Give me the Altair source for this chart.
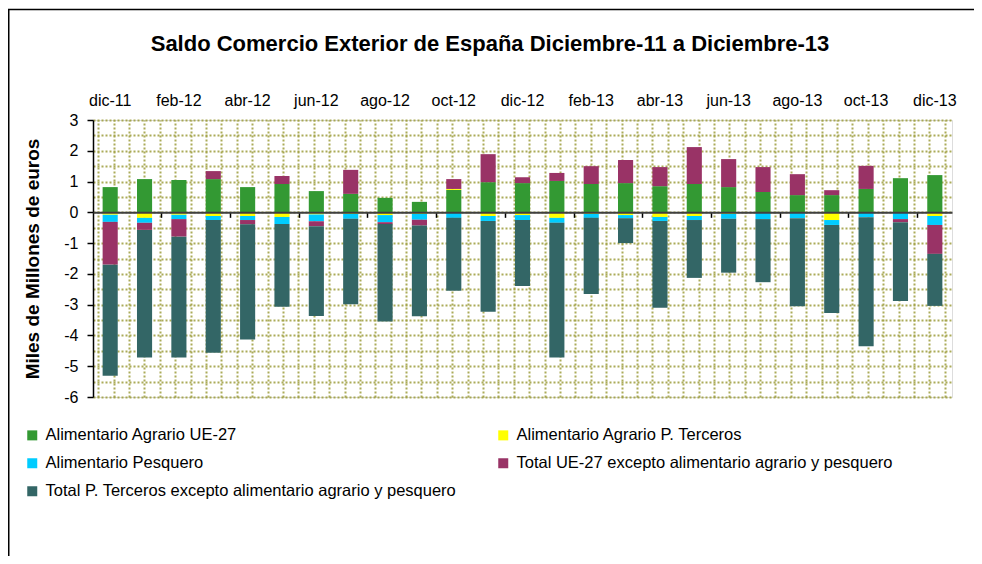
import altair as alt
import pandas as pd

# ---------------- data ----------------
months = ["dic-11", "ene-12", "feb-12", "mar-12", "abr-12", "may-12", "jun-12",
          "jul-12", "ago-12", "sep-12", "oct-12", "nov-12", "dic-12", "ene-13",
          "feb-13", "mar-13", "abr-13", "may-13", "jun-13", "jul-13", "ago-13",
          "sep-13", "oct-13", "nov-13", "dic-13"]

agrario_ue27 = [0.82, 1.08, 1.05, 1.08, 0.82, 0.92, 0.69, 0.60, 0.47, 0.34, 0.73, 0.98,
                0.95, 1.02, 0.92, 0.95, 0.85, 0.92, 0.82, 0.66, 0.56, 0.56, 0.76, 1.11, 1.21]
agrario_terceros = [-0.08, -0.18, -0.08, -0.12, -0.12, -0.15, -0.07, -0.05, -0.09, -0.05, 0.03, -0.12,
                    -0.09, -0.18, -0.05, -0.09, -0.15, -0.12, -0.05, -0.01, -0.01, -0.25, -0.01, -0.01, -0.12]
pesquero = [-0.23, -0.16, -0.14, -0.13, -0.13, -0.23, -0.22, -0.16, -0.23, -0.19, -0.18, -0.16,
            -0.16, -0.16, -0.13, -0.10, -0.13, -0.13, -0.16, -0.21, -0.18, -0.16, -0.15, -0.21, -0.29]
total_ue27 = [-1.39, -0.23, -0.57, 0.26, -0.14, 0.26, -0.16, 0.78, -0.06, -0.19, 0.32, 0.91,
              0.19, 0.26, 0.58, 0.75, 0.62, 1.20, 0.91, 0.81, 0.68, 0.16, 0.75, -0.10, -0.94]
total_terceros = [-3.61, -4.15, -3.93, -4.31, -3.74, -2.69, -2.92, -2.78, -3.17, -2.95, -2.37, -2.95,
                  -2.14, -4.38, -2.47, -0.81, -2.82, -1.88, -1.75, -2.05, -2.86, -2.86, -4.19, -2.56, -1.69]

series_names = ["Alimentario Agrario UE-27",
                "Alimentario Agrario P. Terceros",
                "Alimentario Pesquero",
                "Total UE-27 excepto alimentario agrario y pesquero",
                "Total P. Terceros excepto alimentario agrario y pesquero"]
series_colors = ["#339933", "#FFFF00", "#00CCFF", "#993366", "#336666"]
series_values = [agrario_ue27, agrario_terceros, pesquero, total_ue27, total_terceros]

title_text = "Saldo Comercio Exterior de España Diciembre-11 a Diciembre-13"
top_labels = months[::2]
tick_months = months[2::2]
y_grid_values = [v / 2 for v in range(-12, 7)]

rows = []
for k, (name, vals) in enumerate(zip(series_names, series_values)):
    for m, v in zip(months, vals):
        rows.append({"mes": m, "serie": name, "orden": k, "valor": v})
df = pd.DataFrame(rows)

# legend is filled column by column: reorder so it reads row by row like the original
legend_order = [0, 2, 4, 1, 3]
legend_domain = [series_names[i] for i in legend_order]
legend_range = [series_colors[i] for i in legend_order]

FONT = "Liberation Sans"
W, H = 859, 277
ZERO_OFFSET = -(H - H * 3 / 9)
GRID_COLOR = "#9c9c3c"

# vertical dotted pattern lines of the plot area
grid_v = alt.Chart(pd.DataFrame({"g": [0]})).mark_point(opacity=0).encode(
    x=alt.X("g:Q",
            scale=alt.Scale(domain=[-0.344, 55.47], nice=False, zero=False),
            axis=alt.Axis(values=list(range(56)), grid=True, labels=False, ticks=False,
                          domain=False, title=None, orient="bottom",
                          gridColor=GRID_COLOR, gridDash=[2, 2], gridWidth=2, gridOpacity=0.85))
)

bars = alt.Chart(df).mark_bar().encode(
    x=alt.X("mes:N", sort=months,
            scale=alt.Scale(paddingInner=0.56, paddingOuter=0.28),
            axis=alt.Axis(orient="top", values=top_labels, ticks=False, domain=False, grid=False,
                          labelAngle=0, title=None, labelFontSize=16, labelFont=FONT,
                          labelColor="black", labelPadding=12)),
    y=alt.Y("valor:Q", stack="zero",
            scale=alt.Scale(domain=[-6, 3], nice=False),
            axis=alt.Axis(values=y_grid_values,
                          labelExpr="datum.value % 1 === 0 ? '' + datum.value : ''",
                          tickColor={"condition": {"test": "datum.value % 1 !== 0", "value": "transparent"},
                                     "value": "black"},
                          tickSize=6, tickWidth=1.5, labelPadding=9,
                          labelFontSize=16, labelFont=FONT, labelColor="black",
                          domainColor="black", domainWidth=1.5,
                          grid=True, gridColor=GRID_COLOR, gridDash=[2, 2], gridWidth=2, gridOpacity=0.85,
                          title="Miles de Millones de euros", titleFont=FONT, titleFontSize=19,
                          titleFontWeight="bold", titleColor="black", titlePadding=21)),
    color=alt.Color("serie:N",
                    scale=alt.Scale(domain=legend_domain, range=legend_range),
                    legend=alt.Legend(title=None, orient="none", legendX=-69, legendY=307,
                                      columns=2, columnPadding=38, rowPadding=11,
                                      symbolType="square", symbolSize=100, symbolStrokeWidth=0,
                                      labelFontSize=16.5, labelFont=FONT, labelColor="black",
                                      labelLimit=600, labelOffset=5)),
    order=alt.Order("orden:Q", sort="ascending"),
)

# zero line with its small category tick marks
zero_axis = alt.Chart(pd.DataFrame({"mes": months})).mark_point(opacity=0).encode(
    x=alt.X("mes:N", sort=months,
            scale=alt.Scale(type="band", paddingInner=0, paddingOuter=0),
            axis=alt.Axis(orient="bottom", offset=ZERO_OFFSET, values=tick_months, bandPosition=0,
                          labels=False, ticks=True, tickSize=5, tickColor="black", tickWidth=1.5,
                          domain=True, domainColor="#404040", domainWidth=2, grid=False,
                          title=None, zindex=1))
)

title_mark = alt.Chart(pd.DataFrame({"t": [title_text]})).mark_text(
    font=FONT, fontSize=22, fontWeight="bold", color="black", align="center", baseline="middle"
).encode(text="t:N", x=alt.value(397), y=alt.value(-76))

frame_top = alt.Chart(pd.DataFrame({"a": [0]})).mark_rule(color="black", strokeWidth=1.5).encode(
    x=alt.value(-85), x2=alt.value(881), y=alt.value(-110.5))
frame_left = alt.Chart(pd.DataFrame({"a": [0]})).mark_rule(color="black", strokeWidth=1.5).encode(
    x=alt.value(-84.25), y=alt.value(-110.5), y2=alt.value(440))

chart = alt.layer(grid_v, bars, zero_axis, title_mark, frame_top, frame_left).resolve_scale(
    x="independent"
).properties(
    width=W, height=H,
    autosize=alt.AutoSizeParams(type="none"),
    padding={"left": 85, "top": 112, "right": 22, "bottom": 159},
).configure_view(stroke="#a0a0a0", strokeWidth=1.5).configure(background="white")

chart.save("out.html", embed_options={"renderer": "svg", "actions": False})
